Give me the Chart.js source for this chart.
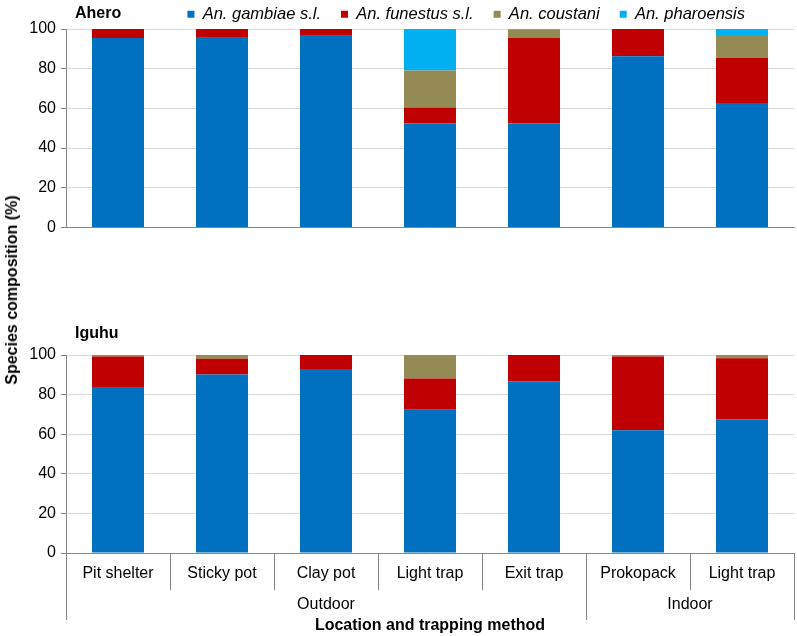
<!DOCTYPE html>
<html>
<head>
<meta charset="utf-8">
<script src="https://cdn.jsdelivr.net/npm/chart.js@4.4.1/dist/chart.umd.min.js"></script>
<style>
  body { margin: 0; background: #fff; width: 797px; height: 636px; position: relative; overflow: hidden;
         font-family: "Liberation Sans", Arial, sans-serif; }
  #topBox { position: absolute; left: 0; top: 0; width: 797px; height: 242px; }
  #botBox { position: absolute; left: 0; top: 318px; width: 797px; height: 318px; }
  #ytitle { position: absolute; left: 12px; top: 290px; transform: translate(-50%, -50%) rotate(-90deg);
            white-space: nowrap; font-weight: bold; font-size: 16px; color: #000; }
</style>
</head>
<body>
<div id="topBox"><canvas id="topChart"></canvas></div>
<div id="botBox"><canvas id="botChart"></canvas></div>
<div id="ytitle">Species composition (%)</div>
<script>
// categories and groups
const categories = ["Pit shelter", "Sticky pot", "Clay pot", "Light trap", "Exit trap", "Prokopack", "Light trap"];
const locations = ["Outdoor", "Indoor"];
const locationSpans = [5, 2];
const species = ["An. gambiae s.l.", "An. funestus s.l.", "An. coustani", "An. pharoensis"];
const speciesColors = ["#0070C0", "#C00000", "#948A54", "#00B0F0"];
const yTicks = [0, 20, 40, 60, 80, 100];

// Ahero (%)
const aheroGambiae    = [95.5, 96.0, 97.0, 52.4, 52.4, 86.3, 62.7];
const aheroFunestus   = [4.5, 4.0, 3.0, 8.0, 43.1, 13.7, 22.8];
const aheroCoustani   = [0, 0, 0, 18.7, 4.2, 0, 11.5];
const aheroPharoensis = [0, 0, 0, 20.9, 0.3, 0, 3.0];

// Iguhu (%)
const iguhuGambiae    = [83.8, 90.1, 92.9, 72.3, 86.8, 62.0, 67.5];
const iguhuFunestus   = [15.5, 8.0, 7.1, 15.8, 13.2, 37.3, 30.9];
const iguhuCoustani   = [0.7, 1.9, 0, 11.9, 0, 0.7, 1.6];
const iguhuPharoensis = [0, 0, 0, 0, 0, 0, 0];

Chart.defaults.font.family = '"Liberation Sans", Arial, sans-serif';
Chart.defaults.font.size = 16;
Chart.defaults.color = "#000";

const AXIS_GREY = "#868686";
const GRID_GREY = "#d9d9d9";

function makeDatasets(series) {
  return series.map((vals, i) => ({
    label: species[i],
    data: vals,
    backgroundColor: speciesColors[i],
    borderWidth: 0,
    barPercentage: 0.5,
    categoryPercentage: 1
  }));
}

// boundaries and label centres for the location row
const groupTicks = [];
let acc = 0;
groupTicks.push({ value: 0, label: "", sep: true });
locations.forEach((loc, i) => {
  groupTicks.push({ value: acc + locationSpans[i] / 2, label: loc, sep: false });
  acc += locationSpans[i];
  groupTicks.push({ value: acc, label: "", sep: true });
});

const panelLabel = {
  id: "panelLabel",
  afterDraw(chart, args, opts) {
    const ctx = chart.ctx;
    ctx.save();
    ctx.font = 'bold 16px "Liberation Sans", Arial, sans-serif';
    ctx.fillStyle = "#000";
    ctx.textBaseline = "middle";
    ctx.fillText(opts.text, chart.chartArea.left + 9, opts.y);
    ctx.restore();
  }
};

// fixed legend height, and pull its right edge in a little
const legendTweak = {
  id: "legendTweak",
  beforeInit(chart) {
    if (!chart.legend) return;
    const fit = chart.legend.fit;
    chart.legend.fit = function () {
      fit.bind(chart.legend)();
      this.height = 43;
    };
  },
  afterLayout(chart) {
    if (chart.legend) chart.legend.right -= 29;
  }
};

function yScale() {
  return {
    min: 0, max: 100,
    afterBuildTicks(s) { s.ticks = yTicks.map(v => ({ value: v })); },
    afterFit(s) { s.width = 66; },
    ticks: { padding: 5, color: "#000" },
    grid: { color: GRID_GREY, tickColor: AXIS_GREY, tickLength: 5 },
    border: { color: AXIS_GREY }
  };
}

new Chart(document.getElementById("topChart"), {
  type: "bar",
  data: {
    labels: categories,
    datasets: makeDatasets([aheroGambiae, aheroFunestus, aheroCoustani, aheroPharoensis])
  },
  options: {
    responsive: true,
    maintainAspectRatio: false,
    animation: false,
    layout: { padding: { left: 0, right: 3, top: -14, bottom: 5 } },
    scales: {
      x: {
        stacked: true,
        ticks: { display: false },
        grid: { display: false },
        border: { color: AXIS_GREY },
        afterFit(s) { s.height = 0; }
      },
      y: Object.assign(yScale(), { stacked: true })
    },
    plugins: {
      tooltip: { enabled: false },
      legend: {
        position: "top",
        align: "end",
        labels: {
          boxWidth: 7, boxHeight: 7, padding: 20, color: "#000",
          font: { size: 16.5, style: "italic" }
        }
      },
      panelLabel: { text: "Ahero", y: 14 }
    }
  },
  plugins: [legendTweak, panelLabel]
});

new Chart(document.getElementById("botChart"), {
  type: "bar",
  data: {
    labels: categories,
    datasets: makeDatasets([iguhuGambiae, iguhuFunestus, iguhuCoustani, iguhuPharoensis])
  },
  options: {
    responsive: true,
    maintainAspectRatio: false,
    animation: false,
    layout: { padding: { left: 0, right: 3, top: 37, bottom: 0 } },
    scales: {
      x: {
        stacked: true,
        ticks: { padding: -25.6, color: "#000", maxRotation: 0, autoSkip: false },
        grid: { offset: true, drawOnChartArea: false, color: AXIS_GREY, tickLength: 37 },
        border: { color: AXIS_GREY },
        afterFit(s) { s.height = 37; }
      },
      x2: {
        type: "linear",
        position: "bottom",
        min: 0, max: 7,
        offset: false,
        afterBuildTicks(s) { s.ticks = groupTicks.map(t => ({ value: t.value })); },
        afterFit(s) { s.height = 46; },
        ticks: {
          padding: -24.6, color: "#000", autoSkip: false, maxRotation: 0,
          callback: (v) => { const t = groupTicks.find(g => g.value === v); return t ? t.label : ""; }
        },
        grid: {
          offset: false, drawOnChartArea: false, tickLength: 30,
          color: (ctx) => { const t = groupTicks.find(g => ctx.tick && g.value === ctx.tick.value); return t && t.sep ? AXIS_GREY : "rgba(0,0,0,0)"; }
        },
        border: { display: false },
        title: { display: true, text: "Location and trapping method", font: { weight: "bold", size: 16 }, color: "#000", padding: { top: 0, bottom: 1 } }
      },
      y: Object.assign(yScale(), { stacked: true })
    },
    plugins: {
      tooltip: { enabled: false },
      legend: { display: false },
      panelLabel: { text: "Iguhu", y: 16 }
    }
  },
  plugins: [panelLabel]
});
</script>
</body>
</html>
